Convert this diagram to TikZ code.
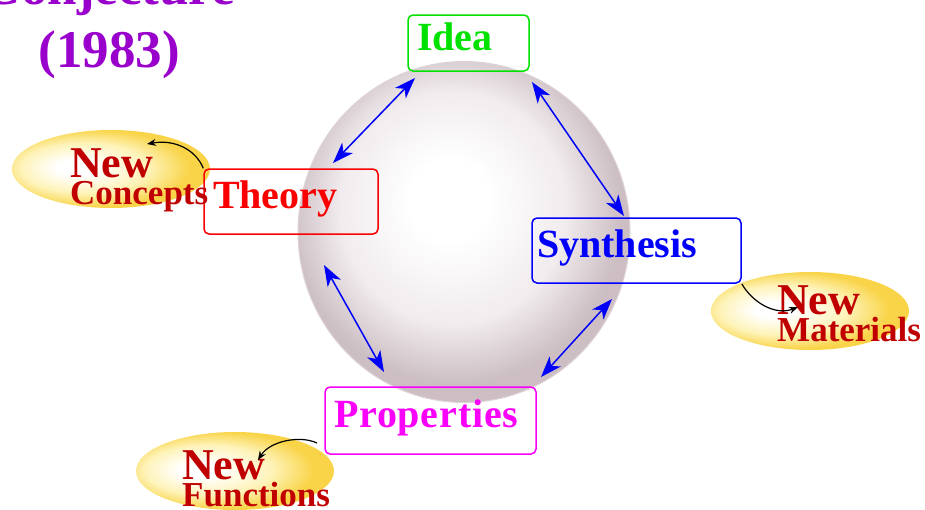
\documentclass[tikz,border=0pt]{standalone}
\usepackage{fontspec}
\setmainfont{Liberation Serif}
\usetikzlibrary{arrows.meta,shapes.geometric}
\definecolor{ideagreen}{RGB}{0,225,0}
\definecolor{theoryred}{RGB}{250,0,0}
\definecolor{synthblue}{RGB}{0,0,250}
\definecolor{propmagenta}{RGB}{250,0,250}
\definecolor{titlepurple}{RGB}{153,0,204}
\definecolor{newred}{RGB}{192,0,0}
\definecolor{ballmid}{RGB}{241,236,238}
\definecolor{balledge}{RGB}{204,190,195}
\definecolor{ballrim}{RGB}{222,212,215}
\definecolor{eggmid}{RGB}{254,243,185}
\definecolor{eggyellow}{RGB}{249,212,72}
\pgfdeclareradialshading{ballshade}{\pgfpoint{-2.6bp}{5.4bp}}{color(0bp)=(white); color(6bp)=(white); color(17bp)=(ballmid); color(25bp)=(balledge); color(50bp)=(balledge)}
\pgfdeclareradialshading{eggshade}{\pgfpoint{-10bp}{1bp}}{color(0bp)=(white); color(5bp)=(white); color(16bp)=(eggmid); color(25bp)=(eggyellow); color(50bp)=(eggyellow)}

\begin{document}
\begin{tikzpicture}[x=1pt,y=-1pt,
  stagebox/.style={draw=#1,text=#1,line width=1.5pt,rounded corners=5pt,align=left,inner xsep=9pt,inner ysep=0pt,text height=30pt,text depth=16pt,font=\fontsize{40}{40}\selectfont\bfseries},
  egg/.style={ellipse,shade,shading=eggshade,minimum width=198pt,minimum height=78pt,inner sep=0pt},
  newtext/.style={anchor=north west,inner sep=0pt,align=left,text=newred,font=\fontsize{44}{27}\selectfont\bfseries},
  cycle/.style={{Stealth[length=21pt,width=15pt,inset=6pt]}-{Stealth[length=21pt,width=15pt,inset=6pt]},synthblue,line width=1.5pt},
  spin/.style={-{Stealth[length=9pt,width=7pt]},black,line width=1.2pt}]
  \path[use as bounding box,clip] (0,0) rectangle (925,509);

  % the sphere and the three outcomes
  \node[ellipse,shade,shading=ballshade,draw=ballrim,line width=1pt,minimum width=332pt,minimum height=341pt,inner sep=0pt] (ball) at (464,232) {};
  \node[egg] (conceptsegg) at (111,169) {};
  \node[egg] (materialsegg) at (810,311) {};
  \node[egg] (functionsegg) at (235,471) {};

  \node[anchor=south,inner sep=0pt,align=center,text=titlepurple,font=\fontsize{53}{63}\selectfont\bfseries] (title) at (109,79) {Conjecture\\(1983)};

  % the four stages
  \node[stagebox=ideagreen,text width=103pt,minimum height=56pt] (idea) at (468.5,43) {Idea};
  \node[stagebox=theoryred,text width=156pt,minimum height=65pt] (theory) at (291,201.5) {Theory};
  \node[stagebox=synthblue,inner xsep=5pt,text width=199pt,minimum height=65pt] (synth) at (636.5,250.5) {Synthesis};
  \node[stagebox=propmagenta,text width=193pt,minimum height=67pt] (prop) at (430.5,420.5) {\addfontfeature{LetterSpace=2.0}Properties};

  \node[newtext] (concepts) at (70,148) {New\\{\fontsize{35}{27}\selectfont Concepts}};
  \node[newtext] (materials) at (777,285) {New\\{\fontsize{35}{27}\selectfont Materials}};
  \node[newtext] (functions) at (182,450) {New\\{\fontsize{35}{27}\selectfont Functions}};

  % arrow ends round the sphere
  \coordinate (ideaL) at (415,78);
  \coordinate (theoryT) at (333,163);
  \coordinate (ideaR) at (532,82);
  \coordinate (synthT) at (624,216);
  \coordinate (theoryB) at (324,265);
  \coordinate (propL) at (384,372);
  \coordinate (synthB) at (612,299);
  \coordinate (propR) at (541,377);
  \draw[cycle] (ideaL) -- (theoryT);
  \draw[cycle] (ideaR) -- (synthT);
  \draw[cycle] (theoryB) -- (propL);
  \draw[cycle] (synthB) -- (propR);

  \coordinate (conceptsTip) at (147,144);
  \coordinate (materialsTip) at (798,307);
  \coordinate (functionsTail) at (317,443);
  \coordinate (functionsTip) at (258,460);
  \draw[spin] (theory.north west) .. controls (196,150) and (175,139) .. (conceptsTip);
  \draw[spin] (synth.south east) .. controls (752,302) and (775,316) .. (materialsTip);
  \draw[spin] (functionsTail) .. controls (300,435) and (270,441) .. (functionsTip);
\end{tikzpicture}
\end{document}
